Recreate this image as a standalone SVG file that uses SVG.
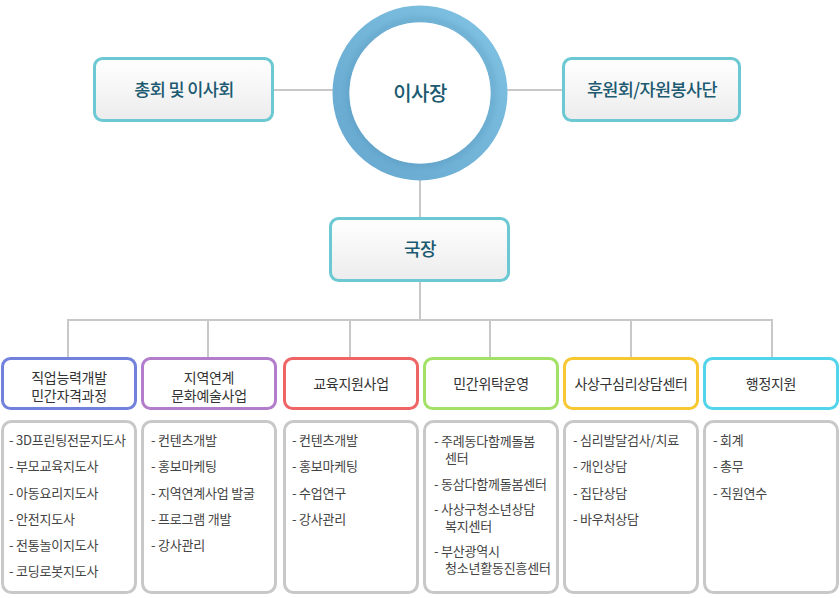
<svg xmlns="http://www.w3.org/2000/svg" width="840" height="598" viewBox="0 0 840 598">
<defs>
<linearGradient id="gBox" x1="0" y1="0" x2="0" y2="1"><stop offset="0" stop-color="#ffffff"/><stop offset="1" stop-color="#ececec"/></linearGradient>
<linearGradient id="gRing" x1="1" y1="0" x2="0" y2="1"><stop offset="0" stop-color="#80c2e2"/><stop offset="1" stop-color="#66a8cf"/></linearGradient>
<filter id="inShadow" x="-20%" y="-20%" width="140%" height="140%"><feGaussianBlur stdDeviation="3"/></filter>
</defs>
<style>
.ln{stroke:#c8c8c8;stroke-width:2;fill:none}
.top{fill:url(#gBox);stroke:#6cc8d2;stroke-width:3}
.tt{font-family:"Noto Sans CJK KR","Noto Sans",sans-serif;fill:#1b5a70;text-anchor:middle;letter-spacing:-0.6px;font-weight:500}
.cat{fill:#fff;stroke-width:3}
.ct{font-family:"Noto Sans CJK KR","Noto Sans",sans-serif;font-size:14px;fill:#333;text-anchor:middle;letter-spacing:-0.3px}
.lst{fill:#fff;stroke:#c8c8c8;stroke-width:3}
.li{font-family:"Noto Sans CJK KR","Noto Sans",sans-serif;font-size:13px;fill:#444;letter-spacing:-0.2px}
</style>
<g id="connectors">
<line class="ln" x1="273" y1="90" x2="334" y2="90"/>
<line class="ln" x1="506" y1="90" x2="562" y2="90"/>
<line class="ln" x1="420" y1="180" x2="420" y2="217"/>
<line class="ln" x1="420" y1="281" x2="420" y2="320"/>
<line class="ln" x1="67" y1="320" x2="773" y2="320"/>
<line class="ln" x1="68" y1="320" x2="68" y2="357"/>
<line class="ln" x1="208" y1="320" x2="208" y2="357"/>
<line class="ln" x1="350" y1="320" x2="350" y2="357"/>
<line class="ln" x1="490" y1="320" x2="490" y2="357"/>
<line class="ln" x1="631" y1="320" x2="631" y2="357"/>
<line class="ln" x1="772" y1="320" x2="772" y2="357"/>
</g>
<g id="n-assembly">
<rect class="top" x="94.5" y="58.5" width="178" height="62" rx="8"/>
<text class="tt" x="184" y="96" font-size="17.5">총회 및 이사회</text>
</g>
<g id="n-support">
<rect class="top" x="563.5" y="58.5" width="176" height="62" rx="8"/>
<text class="tt" x="652" y="96" font-size="17.5">후원회/자원봉사단</text>
</g>
<g id="n-chair">
<circle cx="420" cy="93" r="79" fill="none" stroke="url(#gRing)" stroke-width="17"/>
<circle cx="421" cy="92" r="72" fill="none" stroke="#3f7fa6" stroke-width="3" opacity="0.45" filter="url(#inShadow)"/>
<circle cx="420" cy="93" r="70.5" fill="#fff"/>
<text class="tt" x="420" y="101" font-size="20">이사장</text>
</g>
<g id="n-director">
<rect class="top" x="330.5" y="218.5" width="178" height="62" rx="8"/>
<text class="tt" x="420" y="256" font-size="18">국장</text>
</g>
<g id="n-c1">
<rect class="cat" x="2.5" y="358.5" width="133" height="50" rx="8" stroke="#7282dc"/>
<text class="ct" x="69" y="383">직업능력개발</text>
<text class="ct" x="69" y="401">민간자격과정</text>
<rect class="lst" x="2.5" y="421.5" width="133" height="171" rx="9"/>
<text class="li" x="9" y="445">- 3D프린팅전문지도사</text>
<text class="li" x="9" y="471">- 부모교육지도사</text>
<text class="li" x="9" y="498">- 아동요리지도사</text>
<text class="li" x="9" y="524">- 안전지도사</text>
<text class="li" x="9" y="550">- 전통놀이지도사</text>
<text class="li" x="9" y="576">- 코딩로봇지도사</text>
</g>
<g id="n-c2">
<rect class="cat" x="142.5" y="358.5" width="133" height="50" rx="8" stroke="#b27ecb"/>
<text class="ct" x="209" y="383">지역연계</text>
<text class="ct" x="209" y="401">문화예술사업</text>
<rect class="lst" x="142.5" y="421.5" width="133" height="171" rx="9"/>
<text class="li" x="151" y="445">- 컨텐츠개발</text>
<text class="li" x="151" y="471">- 홍보마케팅</text>
<text class="li" x="151" y="498">- 지역연계사업 발굴</text>
<text class="li" x="151" y="524">- 프로그램 개발</text>
<text class="li" x="151" y="550">- 강사관리</text>
</g>
<g id="n-c3">
<rect class="cat" x="284.5" y="358.5" width="133" height="50" rx="8" stroke="#ef6464"/>
<text class="ct" x="351" y="389">교육지원사업</text>
<rect class="lst" x="284.5" y="421.5" width="133" height="171" rx="9"/>
<text class="li" x="292" y="445">- 컨텐츠개발</text>
<text class="li" x="292" y="471">- 홍보마케팅</text>
<text class="li" x="292" y="498">- 수업연구</text>
<text class="li" x="292" y="524">- 강사관리</text>
</g>
<g id="n-c4">
<rect class="cat" x="424.5" y="358.5" width="133" height="50" rx="8" stroke="#a2e066"/>
<text class="ct" x="491" y="389">민간위탁운영</text>
<rect class="lst" x="424.5" y="421.5" width="133" height="171" rx="9"/>
<text class="li" x="434" y="446">- 주례동다함께돌봄</text>
<text class="li" x="445" y="463">센터</text>
<text class="li" x="434" y="489">- 동삼다함께돌봄센터</text>
<text class="li" x="434" y="514">- 사상구청소년상담</text>
<text class="li" x="445" y="531">복지센터</text>
<text class="li" x="434" y="556">- 부산광역시</text>
<text class="li" x="445" y="573">청소년활동진흥센터</text>
</g>
<g id="n-c5">
<rect class="cat" x="564.5" y="358.5" width="133" height="50" rx="8" stroke="#f8c832"/>
<text class="ct" x="631" y="389">사상구심리상담센터</text>
<rect class="lst" x="564.5" y="421.5" width="133" height="171" rx="9"/>
<text class="li" x="573" y="445">- 심리발달검사/치료</text>
<text class="li" x="573" y="471">- 개인상담</text>
<text class="li" x="573" y="498">- 집단상담</text>
<text class="li" x="573" y="524">- 바우처상담</text>
</g>
<g id="n-c6">
<rect class="cat" x="704.5" y="358.5" width="133" height="50" rx="8" stroke="#52d4ea"/>
<text class="ct" x="771" y="389">행정지원</text>
<rect class="lst" x="704.5" y="421.5" width="133" height="171" rx="9"/>
<text class="li" x="713" y="445">- 회계</text>
<text class="li" x="713" y="471">- 총무</text>
<text class="li" x="713" y="498">- 직원연수</text>
</g>
</svg>
